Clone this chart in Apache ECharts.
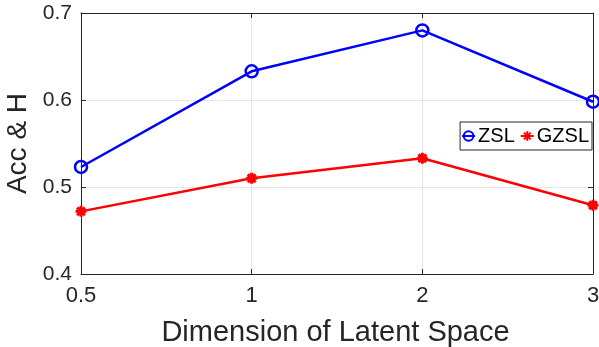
<!DOCTYPE html>
<html>
<head>
<meta charset="utf-8">
<script src="https://cdn.jsdelivr.net/npm/echarts@6/dist/echarts.min.js"></script>
<style>
  html, body { margin: 0; padding: 0; background: #fff; }
  #chart { width: 599px; height: 347px; }
</style>
</head>
<body>
<div id="chart"></div>
<script>
// Latent space dimensions (x categories) and accuracy values per setting
const dimensions = ['0.5', '1', '2', '3'];
const zslAcc = [0.523, 0.633, 0.680, 0.598];
const gzslH = [0.472, 0.510, 0.533, 0.479];
const yTicks = { min: 0.4, max: 0.7, step: 0.1 };

const FONT = 'Liberation Sans, Arial, Helvetica, sans-serif';
const AXIS_COLOR = '#262626';
const GRID_COLOR = '#e6e6e6';

// Asterisk marker drawn as stroked spokes
const ASTERISK = 'path://M0,5L10,5M5,0L5,10M1.46,1.46L8.54,8.54M8.54,1.46L1.46,8.54';

const chart = echarts.init(document.getElementById('chart'));

const baseAxisLine = { show: true, lineStyle: { color: AXIS_COLOR, width: 1 } };

chart.setOption({
  animation: false,
  grid: {
    left: 81, right: 6, top: 13, bottom: 73,
    containLabel: false,
    outerBoundsMode: 'none'
  },
  legend: {
    right: 7,
    top: 122,
    orient: 'horizontal',
    data: ['ZSL', 'GZSL'],
    backgroundColor: '#fff',
    borderColor: AXIS_COLOR,
    borderWidth: 1,
    padding: [4, 3, 4, 1],
    itemGap: 5,
    itemWidth: 13,
    itemHeight: 12,
    textStyle: { fontFamily: FONT, fontSize: 20, color: '#000', padding: [0, 0, 0, -2] }
  },
  xAxis: [
    {
      type: 'category',
      data: dimensions,
      boundaryGap: false,
      position: 'bottom',
      name: 'Dimension of Latent Space',
      nameLocation: 'middle',
      nameGap: 44,
      nameTextStyle: { fontFamily: FONT, fontSize: 29, color: AXIS_COLOR, padding: [0, 3, 0, 0] },
      axisLine: baseAxisLine,
      axisTick: { show: true, inside: true, length: 5, alignWithLabel: true, lineStyle: { color: AXIS_COLOR } },
      axisLabel: { fontFamily: FONT, fontSize: 22, color: AXIS_COLOR, margin: 11 },
      splitLine: { show: true, lineStyle: { color: GRID_COLOR, width: 1 } }
    },
    {
      type: 'category',
      data: dimensions,
      boundaryGap: false,
      position: 'top',
      axisLine: baseAxisLine,
      axisTick: { show: true, inside: true, length: 5, lineStyle: { color: AXIS_COLOR } },
      axisLabel: { show: false },
      splitLine: { show: false }
    }
  ],
  yAxis: [
    {
      type: 'value',
      min: yTicks.min,
      max: yTicks.max,
      interval: yTicks.step,
      position: 'left',
      name: 'Acc & H',
      nameLocation: 'middle',
      nameGap: 44,
      nameTextStyle: { fontFamily: FONT, fontSize: 28, color: AXIS_COLOR },
      axisLine: baseAxisLine,
      axisTick: { show: true, inside: true, length: 5, lineStyle: { color: AXIS_COLOR } },
      axisLabel: {
        fontFamily: FONT, fontSize: 21, color: AXIS_COLOR, margin: 9,
        formatter: v => v.toFixed(1)
      },
      splitLine: { show: true, lineStyle: { color: GRID_COLOR, width: 1 } }
    },
    {
      type: 'value',
      min: yTicks.min,
      max: yTicks.max,
      interval: yTicks.step,
      position: 'right',
      axisLine: baseAxisLine,
      axisTick: { show: true, inside: true, length: 5, lineStyle: { color: AXIS_COLOR } },
      axisLabel: { show: false },
      splitLine: { show: false }
    }
  ],
  series: [
    {
      name: 'ZSL',
      type: 'line',
      data: zslAcc,
      xAxisIndex: 0,
      yAxisIndex: 0,
      symbol: 'circle',
      symbolSize: 12,
      showAllSymbol: true,
      lineStyle: { color: '#0000ff', width: 2.5 },
      itemStyle: { color: 'rgba(0,0,0,0)', borderColor: '#0000ff', borderWidth: 2.5 },
      z: 3
    },
    {
      name: 'GZSL',
      type: 'line',
      data: gzslH,
      xAxisIndex: 0,
      yAxisIndex: 0,
      symbol: ASTERISK,
      symbolSize: 11,
      showAllSymbol: true,
      lineStyle: { color: '#ff0000', width: 2.5 },
      itemStyle: { color: '#ff0000', borderColor: '#ff0000', borderWidth: 3 },
      z: 3
    }
  ]
});
</script>
</body>
</html>
